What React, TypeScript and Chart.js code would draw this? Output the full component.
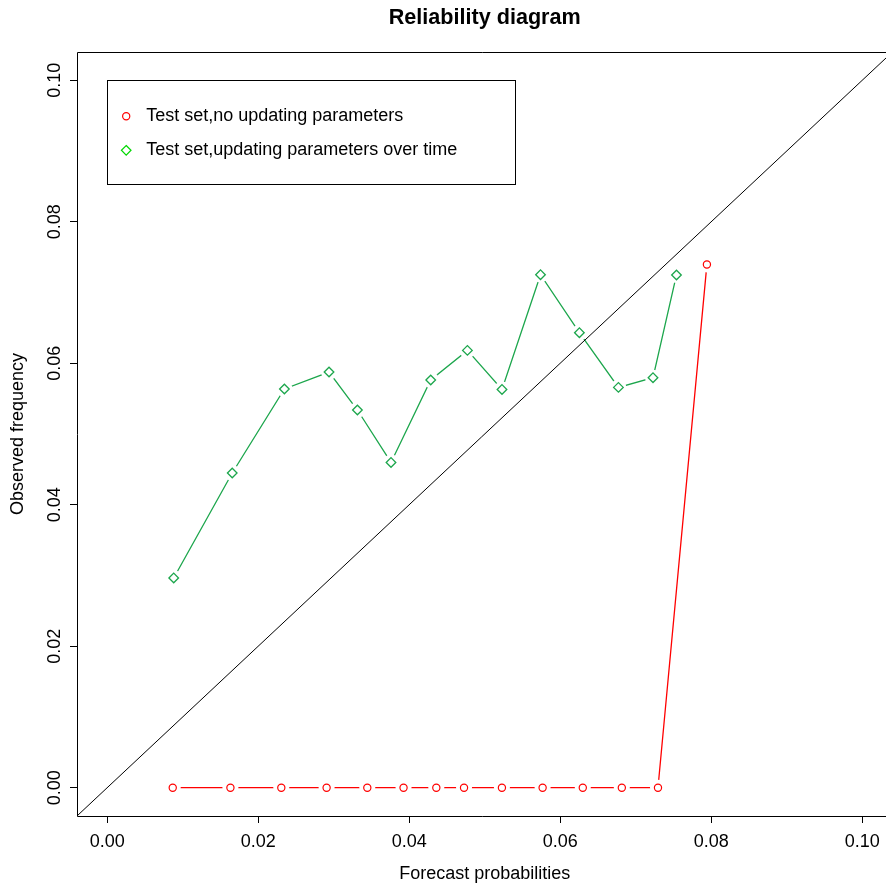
import { useEffect, useRef } from 'react';
import { Chart, registerables } from 'chart.js';

Chart.register(...registerables);

const chartTitle = 'Reliability diagram';
const xAxisTitle = 'Forecast probabilities';
const yAxisTitle = 'Observed frequency';
const seriesNames = ['Test set,no updating parameters', 'Test set,updating parameters over time'];

const xTicks = [0, 0.02, 0.04, 0.06, 0.08, 0.1];
const yTicks = [0, 0.02, 0.04, 0.06, 0.08, 0.1];
const xRange = [-0.004, 0.10315];
const yRange = [-0.004, 0.104];

// Series 1: test set, no updating parameters
const noUpdateX = [0.00868, 0.01632, 0.02306, 0.02906, 0.03445, 0.03925, 0.04359, 0.04726, 0.05228, 0.05767, 0.06299, 0.06816, 0.07295, 0.07943];
const noUpdateY = [0, 0, 0, 0, 0, 0, 0, 0, 0, 0, 0, 0, 0, 0.07397];

// Series 2: test set, updating parameters over time
const updateX = [0.00881, 0.01656, 0.02347, 0.02938, 0.03314, 0.03759, 0.04285, 0.04771, 0.05229, 0.05739, 0.06254, 0.06771, 0.07229, 0.0754];
const updateY = [0.02965, 0.04449, 0.05636, 0.05876, 0.05339, 0.04598, 0.05763, 0.06182, 0.0563, 0.07252, 0.06432, 0.05659, 0.05796, 0.07248];

// Reference diagonal y = x
const diagonalX = [-0.01, 0.12];

const RED = '#ff0000';
const GREEN = '#1ca64c';
const GREEN_LEGEND = '#00d800';
const FONT = "'Liberation Sans', Arial, Helvetica, sans-serif";

const zip = (xs: number[], ys: number[]) => xs.map((x, i) => ({ x, y: ys[i] }));

const decorPlugin = {
  id: 'rDecor',
  afterDraw(chart: any) {
    const ctx = chart.ctx as CanvasRenderingContext2D;
    const { left, top, right, bottom } = chart.chartArea;
    const xs = chart.scales.x;
    const ys = chart.scales.y;
    ctx.save();
    // box (left, top, bottom)
    ctx.strokeStyle = '#000';
    ctx.lineWidth = 1;
    ctx.beginPath();
    ctx.moveTo(right + 2, top + 0.5);
    ctx.lineTo(left + 0.5, top + 0.5);
    ctx.lineTo(left + 0.5, bottom + 0.5);
    ctx.lineTo(right + 2, bottom + 0.5);
    ctx.stroke();

    ctx.fillStyle = '#000';
    // y tick labels, rotated
    ctx.font = `18px ${FONT}`;
    ctx.textAlign = 'center';
    ctx.textBaseline = 'middle';
    yTicks.forEach((v) => {
      const py = ys.getPixelForValue(v);
      ctx.save();
      ctx.translate(left - 22, py);
      ctx.rotate(-Math.PI / 2);
      ctx.fillText(v.toFixed(2), 0, 0);
      ctx.restore();
    });

    const cx = xs.getPixelForValue((xTicks[0] + xTicks[xTicks.length - 1]) / 2);
    // title
    ctx.font = `bold 21.6px ${FONT}`;
    ctx.fillText(chartTitle, cx, 18);
    // x axis title
    ctx.font = `18px ${FONT}`;
    ctx.fillText(xAxisTitle, cx, 874);
    // y axis title
    ctx.save();
    ctx.translate(18, (top + bottom) / 2);
    ctx.rotate(-Math.PI / 2);
    ctx.fillText(yAxisTitle, 0, 0);
    ctx.restore();

    // legend
    const lx = xs.getPixelForValue(0);
    const ly = ys.getPixelForValue(0.1);
    const lw = 408;
    const lh = 104;
    ctx.strokeStyle = '#000';
    ctx.lineWidth = 1;
    ctx.strokeRect(Math.round(lx) + 0.5, Math.round(ly) + 0.5, lw, lh);
    const rows = [ly + 36, ly + 70];
    // circle
    ctx.lineWidth = 1.2;
    ctx.strokeStyle = RED;
    ctx.beginPath();
    ctx.arc(lx + 19, rows[0], 3.6, 0, Math.PI * 2);
    ctx.stroke();
    // diamond
    ctx.strokeStyle = GREEN_LEGEND;
    const d = 4.8;
    const dx = lx + 19;
    const dy = rows[1];
    ctx.beginPath();
    ctx.moveTo(dx, dy - d);
    ctx.lineTo(dx + d, dy);
    ctx.lineTo(dx, dy + d);
    ctx.lineTo(dx - d, dy);
    ctx.closePath();
    ctx.stroke();
    ctx.fillStyle = '#000';
    ctx.textAlign = 'left';
    ctx.font = `18px ${FONT}`;
    ctx.fillText(seriesNames[0], lx + 39, rows[0]);
    ctx.fillText(seriesNames[1], lx + 39, rows[1]);
    ctx.restore();
  },
};

export default function App() {
  const ref = useRef<HTMLCanvasElement>(null);

  useEffect(() => {
    if (!ref.current) return;
    const noUpd = zip(noUpdateX, noUpdateY);
    const upd = zip(updateX, updateY);
    const diag = diagonalX.map((v) => ({ x: v, y: v }));

    const chart = new Chart(ref.current, {
      type: 'line',
      data: {
        datasets: [
          {
            label: 'diagonal',
            data: diag,
            borderColor: '#000',
            borderWidth: 1,
            pointRadius: 0,
            order: 0,
          },
          {
            label: seriesNames[0] + ' markers',
            data: noUpd,
            showLine: false,
            pointStyle: 'circle',
            pointRadius: 3.6,
            pointBorderWidth: 1.2,
            pointBorderColor: RED,
            pointBackgroundColor: 'rgba(0,0,0,0)',
            order: 1,
          },
          {
            label: seriesNames[1] + ' markers',
            data: upd,
            showLine: false,
            pointStyle: 'rectRot',
            pointRadius: 4.8,
            pointBorderWidth: 1.3,
            pointBorderColor: GREEN,
            pointBackgroundColor: 'rgba(0,0,0,0)',
            order: 2,
          },
          {
            label: 'gap1',
            data: noUpd,
            showLine: false,
            pointStyle: 'circle',
            pointRadius: 8,
            pointBorderWidth: 0,
            pointBorderColor: '#fff',
            pointBackgroundColor: '#fff',
            order: 3,
          },
          {
            label: 'gap2',
            data: upd,
            showLine: false,
            pointStyle: 'circle',
            pointRadius: 8,
            pointBorderWidth: 0,
            pointBorderColor: '#fff',
            pointBackgroundColor: '#fff',
            order: 4,
          },
          {
            label: seriesNames[0],
            data: noUpd,
            borderColor: RED,
            borderWidth: 1.3,
            pointRadius: 0,
            tension: 0,
            order: 5,
          },
          {
            label: seriesNames[1],
            data: upd,
            borderColor: GREEN,
            borderWidth: 1.3,
            pointRadius: 0,
            tension: 0,
            order: 6,
          },
        ],
      },
      options: {
        animation: false,
        responsive: false,
        devicePixelRatio: 1,
        events: [],
        layout: { autoPadding: false, padding: { top: 52, left: 0, right: 0, bottom: 0 } },
        plugins: {
          legend: { display: false },
          title: { display: false },
          tooltip: { enabled: false },
        },
        scales: {
          x: {
            type: 'linear',
            min: xRange[0],
            max: xRange[1],
            afterBuildTicks: (s: any) => {
              s.ticks = xTicks.map((v) => ({ value: v }));
            },
            afterFit: (s: any) => {
              s.height = 70;
              s.paddingLeft = 0;
              s.paddingRight = 0;
            },
            grid: { drawOnChartArea: false, drawTicks: true, tickLength: 7, color: '#000', lineWidth: 1 },
            border: { display: false },
            ticks: {
              color: '#000',
              font: { family: FONT, size: 18 },
              padding: 8,
              maxRotation: 0,
              minRotation: 0,
              callback: (v: any) => Number(v).toFixed(2),
            },
          },
          y: {
            type: 'linear',
            min: yRange[0],
            max: yRange[1],
            afterBuildTicks: (s: any) => {
              s.ticks = yTicks.map((v) => ({ value: v }));
            },
            afterFit: (s: any) => {
              s.width = 77;
              s.paddingTop = 0;
              s.paddingBottom = 0;
            },
            grid: { drawOnChartArea: false, drawTicks: true, tickLength: 7, color: '#000', lineWidth: 1 },
            border: { display: false },
            ticks: { display: false },
          },
        },
      },
      plugins: [decorPlugin],
    } as any);

    return () => chart.destroy();
  }, []);

  return (
    <div style={{ position: 'absolute', left: 0, top: 0, width: 886, height: 886, background: '#fff' }}>
      <canvas ref={ref} width={886} height={886} style={{ display: 'block', width: 886, height: 886 }} />
    </div>
  );
}
